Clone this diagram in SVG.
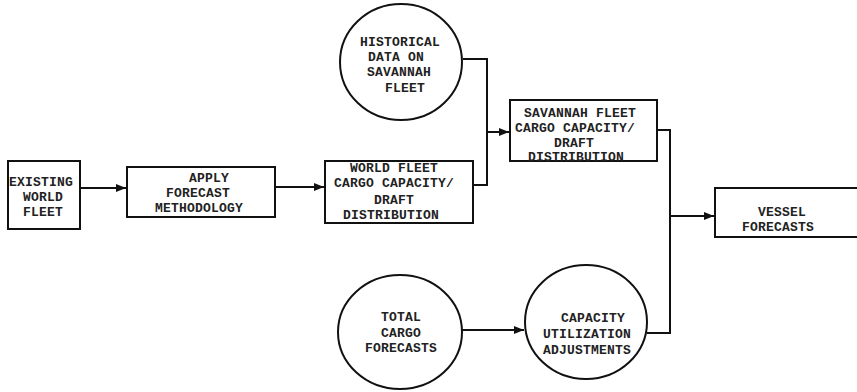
<svg xmlns="http://www.w3.org/2000/svg" width="857" height="392" viewBox="0 0 857 392">
<style>
.n{fill:#fff;stroke:#111;stroke-width:2}
.c{fill:none;stroke:#111;stroke-width:2}
text{font-family:"Liberation Mono","DejaVu Sans Mono",monospace;font-size:13px;font-weight:bold;fill:#222;text-anchor:middle;letter-spacing:0.2px}
</style>
<defs>
<marker id="ah" markerWidth="10" markerHeight="8" refX="10" refY="4" orient="auto" markerUnits="userSpaceOnUse">
<path d="M0,0 L10,4 L0,8 Z" fill="#111"/>
</marker>
</defs>
<rect width="857" height="392" fill="#fff"/>
<g id="connectors">
<line class="c" x1="80" y1="188" x2="126" y2="188" marker-end="url(#ah)"/>
<line class="c" x1="275" y1="187" x2="324" y2="187" marker-end="url(#ah)"/>
<path class="c" d="M463,59 H487 V185 H473"/>
<line class="c" x1="487" y1="132" x2="509" y2="132" marker-end="url(#ah)"/>
<path class="c" d="M657,130 H670 V333 H647"/>
<line class="c" x1="670" y1="216" x2="714" y2="216" marker-end="url(#ah)"/>
<line class="c" x1="462" y1="330" x2="524" y2="330" marker-end="url(#ah)"/>
</g>
<g id="existing">
<rect class="n" x="8" y="161" width="72" height="68"/>
<text x="41" y="186">EXISTING</text>
<text x="43" y="201">WORLD</text>
<text x="43" y="216">FLEET</text>
</g>
<g id="apply">
<rect class="n" x="127" y="167" width="148" height="50"/>
<text x="209" y="182">APPLY</text>
<text x="198" y="197">FORECAST</text>
<text x="199" y="212">METHODOLOGY</text>
</g>
<g id="world">
<rect class="n" x="325" y="161" width="148" height="62"/>
<text x="394" y="172">WORLD FLEET</text>
<text x="394" y="187">CARGO CAPACITY/</text>
<text x="394" y="204">DRAFT</text>
<text x="391" y="219">DISTRIBUTION</text>
</g>
<g id="historical">
<ellipse class="n" cx="401" cy="62" rx="61" ry="58"/>
<text x="400" y="46">HISTORICAL</text>
<text x="396" y="61">DATA ON</text>
<text x="399" y="76">SAVANNAH</text>
<text x="405" y="92">FLEET</text>
</g>
<g id="savannah">
<rect class="n" x="510" y="100" width="147" height="61"/>
<text x="580" y="117">SAVANNAH FLEET</text>
<text x="575" y="132">CARGO CAPACITY/</text>
<text x="574" y="147">DRAFT</text>
<text x="576" y="161">DISTRIBUTION</text>
</g>
<g id="vessel">
<rect class="n" x="715" y="188" width="160" height="49"/>
<text x="782" y="216">VESSEL</text>
<text x="778" y="231">FORECASTS</text>
</g>
<g id="total">
<ellipse class="n" cx="400" cy="332" rx="62" ry="57"/>
<text x="401" y="321">TOTAL</text>
<text x="401" y="337">CARGO</text>
<text x="401" y="352">FORECASTS</text>
</g>
<g id="capacity">
<ellipse class="n" cx="586" cy="322" rx="61" ry="57"/>
<text x="593" y="322">CAPACITY</text>
<text x="587" y="338">UTILIZATION</text>
<text x="587" y="354">ADJUSTMENTS</text>
</g>
</svg>
